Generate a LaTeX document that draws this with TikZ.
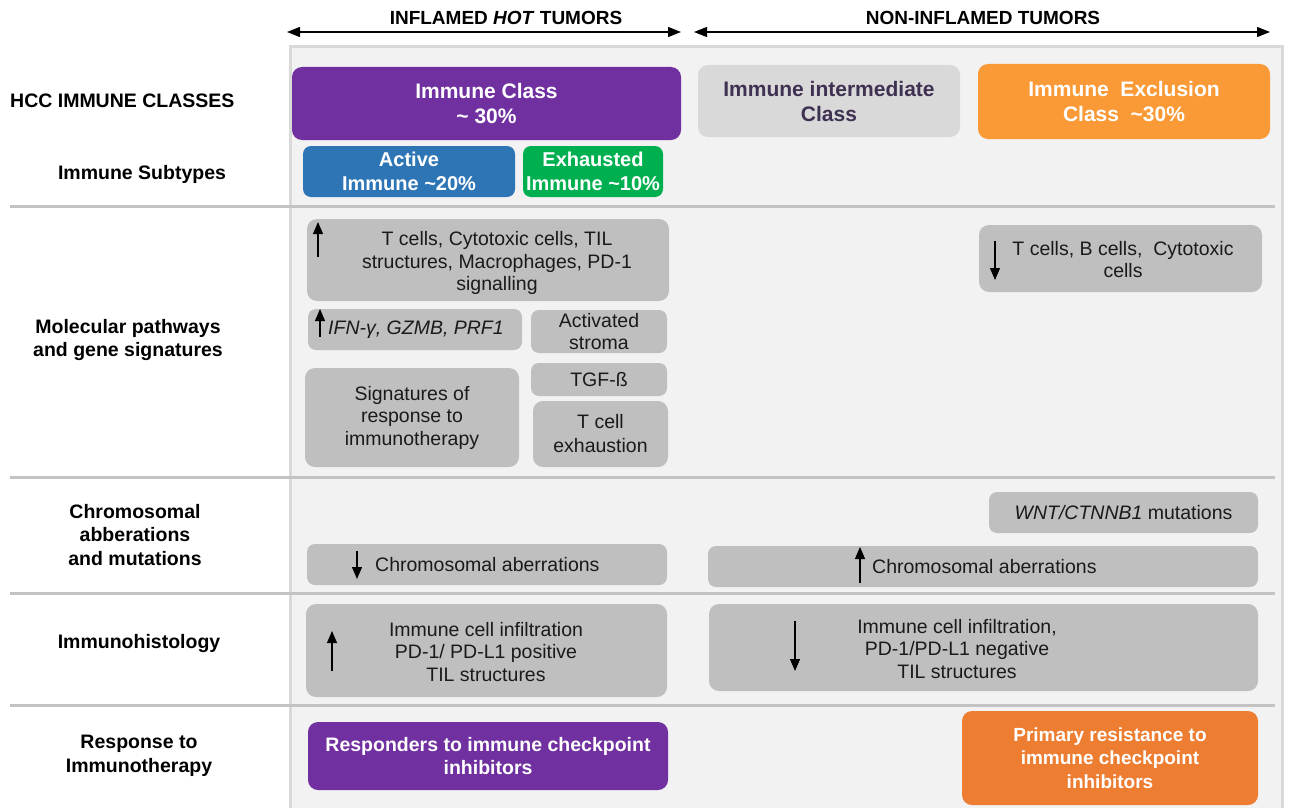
\documentclass[tikz,border=0pt]{standalone}
\usepackage{fontspec}
\setmainfont{Liberation Sans}
\usetikzlibrary{arrows.meta}
\definecolor{panelfill}{HTML}{F2F2F2}
\definecolor{panelline}{HTML}{D9D9D9}
\definecolor{sepgray}{HTML}{C3C3C3}
\definecolor{boxgray}{HTML}{BFBFBF}
\definecolor{textdark}{HTML}{1A1A1A}
\definecolor{cpurple}{HTML}{7030A0}
\definecolor{cblue}{HTML}{2E75B6}
\definecolor{cgreen}{HTML}{00B050}
\definecolor{corange}{HTML}{FA9A36}
\definecolor{corange2}{HTML}{ED7D31}
\definecolor{cinter}{HTML}{D9D9D9}
\definecolor{cintertext}{HTML}{3F3151}
\tikzset{
  rbox/.style={rounded corners=10pt, inner sep=0pt, align=center},
  gbox/.style={rbox, fill=boxgray},
  gtxt/.style={align=center, inner sep=0pt, text=textdark, font=\fontsize{19.5}{22.5}\selectfont},
  hbox/.style={rbox, text=white, font=\bfseries\fontsize{21}{25}\selectfont},
  lab/.style={align=center, inner sep=0pt, font=\bfseries\fontsize{19.5}{23.5}\selectfont},
  sepline/.style={draw=sepgray, line width=3pt},
  vtip/.style={-{Triangle[length=12pt,width=10pt]}, line width=1.1pt},
  htip/.style={{Triangle[length=13pt,width=10pt]}-{Triangle[length=13pt,width=10pt]}, line width=1.1pt}
}
\begin{document}
\begin{tikzpicture}[x=1pt,y=-1pt]
\useasboundingbox (0,0) rectangle (1298,808);
\fill[white] (0,0) rectangle (1298,808);
% panel
\draw[panelline, fill=panelfill, line width=3pt] (290,812) -- (290,47) -- (1282,47) -- (1282,812);
% separators
\foreach \yy in {206,477,593,705} \draw[sepline] (10,\yy) -- (1275,\yy);

% top headings
\node[lab, font=\bfseries\fontsize{19}{22}\selectfont] (hot) at (506,18) {INFLAMED \textit{HOT} TUMORS};
\node[lab, font=\bfseries\fontsize{19}{22}\selectfont] (nonhot) at (983,18) {NON-INFLAMED TUMORS};
\coordinate (ha) at (287,32); \coordinate (hb) at (681,32);
\coordinate (na) at (694,32); \coordinate (nb) at (1270,32);
\draw[htip] (ha) -- (hb);
\draw[htip] (na) -- (nb);

% left labels
\node[lab, anchor=west] (lclass) at (10,101) {HCC IMMUNE CLASSES};
\node[lab] (lsub) at (142,174) {Immune Subtypes};
\node[lab] (lmol) at (128,340) {Molecular pathways\\and gene signatures};
\node[lab] (lchr) at (135,535) {Chromosomal\\abberations\\and mutations};
\node[lab] (lih) at (139,643) {Immunohistology};
\node[lab] (lresp) at (139,756) {Response to\\Immunotherapy};

% classes
\node[hbox, fill=cpurple, minimum width=389pt, minimum height=73pt] (ic) at (486.5,103.5) {Immune Class\\\textasciitilde\ 30\%};
\node[hbox, fill=cinter, text=cintertext, minimum width=262pt, minimum height=72pt] (ii) at (829,101) {Immune intermediate\\Class};
\node[hbox, fill=corange, minimum width=292pt, minimum height=75pt] (ie) at (1124,101.5) {Immune\ \ Exclusion\\Class\ \ \textasciitilde30\%};

% subtypes
\node[hbox, fill=cblue, font=\bfseries\fontsize{20}{24}\selectfont, rounded corners=8pt, minimum width=212pt, minimum height=51pt] (act) at (409,171.5) {Active\\Immune \textasciitilde20\%};
\node[hbox, fill=cgreen, font=\bfseries\fontsize{20}{24}\selectfont, rounded corners=8pt, minimum width=140pt, minimum height=51pt] (exh) at (593,171.5) {Exhausted\\Immune \textasciitilde10\%};

% molecular pathways
\node[gbox, minimum width=362pt, minimum height=82pt] (g1) at (488,260) {};
\node[gtxt] (g1t) at (497,263) {T cells, Cytotoxic cells, TIL\\structures, Macrophages, PD-1\\signalling};
\coordinate (g1a) at (318,257); \coordinate (g1b) at (318,222);
\draw[vtip] (g1a) -- (g1b);

\node[gbox, rounded corners=8pt, minimum width=214pt, minimum height=41pt] (g2) at (415,329.5) {};
\node[gtxt, anchor=west] (g2t) at (328,330) {\itshape IFN-γ, GZMB, PRF1};
\coordinate (g2a) at (320,337); \coordinate (g2b) at (320,309);
\draw[vtip] (g2a) -- (g2b);

\node[gbox, gtxt, rounded corners=8pt, minimum width=136pt, minimum height=43pt] (g3) at (599,331.5) {Activated\\stroma};
\node[gbox, gtxt, minimum width=214pt, minimum height=99pt] (g4) at (412,417.5) {Signatures of\\response to\\immunotherapy};
\node[gbox, gtxt, rounded corners=8pt, minimum width=136pt, minimum height=33pt] (g5) at (599,379.5) {TGF-ß};
\node[gbox, gtxt, minimum width=135pt, minimum height=66pt, font=\fontsize{19.5}{24}\selectfont] (g6) at (600.5,434) {T cell\\exhaustion};

\node[gbox, minimum width=283pt, minimum height=67pt] (g7) at (1120.5,258.5) {};
\node[gtxt] (g7t) at (1123,259.5) {T cells, B cells,\ \ Cytotoxic\\cells};
\coordinate (g7a) at (995,241); \coordinate (g7b) at (995,280);
\draw[vtip] (g7a) -- (g7b);

% chromosomal
\node[gbox, gtxt, rounded corners=8pt, minimum width=269pt, minimum height=41pt] (g8) at (1123.5,512.5) {\textit{WNT/CTNNB1} mutations};
\node[gbox, rounded corners=8pt, minimum width=360pt, minimum height=41pt] (g9) at (487,564.5) {};
\node[gtxt, anchor=west] (g9t) at (375,565) {Chromosomal aberrations};
\coordinate (g9a) at (357,551); \coordinate (g9b) at (357,579);
\draw[vtip] (g9a) -- (g9b);
\node[gbox, rounded corners=8pt, minimum width=550pt, minimum height=41pt] (g10) at (983,566.5) {};
\node[gtxt, anchor=west] (g10t) at (872,567) {Chromosomal aberrations};
\coordinate (g10a) at (860,583); \coordinate (g10b) at (860,547);
\draw[vtip] (g10a) -- (g10b);

% immunohistology
\node[gbox, minimum width=361pt, minimum height=93pt] (g11) at (486.5,650.5) {};
\node[gtxt] (g11t) at (486,652) {Immune cell infiltration\\PD-1/ PD-L1 positive\\TIL structures};
\coordinate (g11a) at (332,671); \coordinate (g11b) at (332,631);
\draw[vtip] (g11a) -- (g11b);
\node[gbox, minimum width=549pt, minimum height=87pt] (g12) at (983.5,647.5) {};
\node[gtxt] (g12t) at (957,649) {Immune cell infiltration,\\PD-1/PD-L1 negative\\TIL structures};
\coordinate (g12a) at (795,621); \coordinate (g12b) at (795,671);
\draw[vtip] (g12a) -- (g12b);

% response
\node[hbox, fill=cpurple, font=\bfseries\fontsize{19.5}{23}\selectfont, minimum width=360pt, minimum height=68pt] (resp) at (488,756) {Responders to immune checkpoint\\inhibitors};
\node[hbox, fill=corange2, font=\bfseries\fontsize{19}{23.5}\selectfont, minimum width=296pt, minimum height=94pt] (res) at (1110,758) {Primary resistance to\\immune checkpoint\\inhibitors};
\end{tikzpicture}
\end{document}
